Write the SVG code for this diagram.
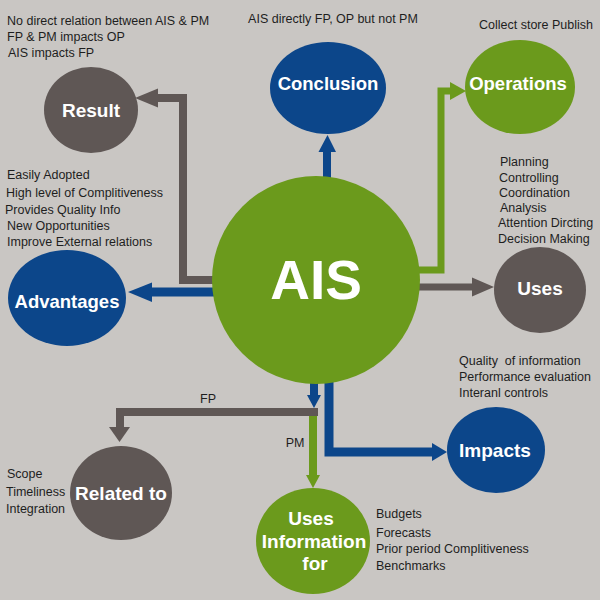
<svg xmlns="http://www.w3.org/2000/svg" width="600" height="600" viewBox="0 0 600 600">
<style>
.bg{fill:#c9c6c3}
.green{fill:#6b9a1c}
.blue{fill:#0c468a}
.grey{fill:#5f5755}
.lbl{font-family:"Liberation Sans",Arial,sans-serif;font-weight:bold;fill:#ffffff;text-anchor:middle}
.txt{font-family:"Liberation Sans",Arial,sans-serif;font-size:12.5px;fill:#1e1e1e;white-space:pre}
.sg{stroke:#6b9a1c;fill:none}
.sb{stroke:#0c468a;fill:none}
.sr{stroke:#5f5755;fill:none}
</style>
<rect class="bg" x="0" y="0" width="600" height="600"/>

<g id="connectors">
  <line class="sb" x1="327" y1="178" x2="327" y2="150" stroke-width="8"/>
  <polygon class="blue" points="318.5,152 336,152 327.5,135"/>

  <polyline class="sg" points="418,270 441,270 441,91 451,91" stroke-width="7"/>
  <polygon class="green" points="450,82 450,100 466,91"/>

  <polyline class="sr" points="214,280 183,280 183,98 157,98" stroke-width="8"/>
  <polygon class="grey" points="158,88.5 158,107.5 135,98"/>

  <line class="sb" x1="214" y1="292" x2="150" y2="292" stroke-width="9"/>
  <polygon class="blue" points="152,282.5 152,302 128,292"/>

  <line class="sr" x1="418" y1="287" x2="474" y2="287" stroke-width="7"/>
  <polygon class="grey" points="472,277.5 472,296.5 494,287"/>

  <line class="sb" x1="314" y1="382" x2="314" y2="397" stroke-width="8"/>
  <polygon class="blue" points="307,395 321,395 314,408"/>

  <polyline class="sr" points="318,412 120,412 120,429" stroke-width="8"/>
  <polygon class="grey" points="109,427 130,427 119.5,442"/>
  <text class="txt" x="208" y="403" text-anchor="middle">FP</text>

  <line class="sg" x1="313" y1="416" x2="313" y2="477" stroke-width="8"/>
  <polygon class="green" points="306,475 320,475 313,488"/>
  <text class="txt" x="295" y="447" text-anchor="middle">PM</text>

  <polyline class="sb" points="329,382 329,452 435,452" stroke-width="9"/>
  <polygon class="blue" points="432,443 432,461 447,452"/>
</g>

<g id="ais">
  <circle class="green" cx="316" cy="280" r="104"/>
  <text class="lbl" x="316" y="299" font-size="55">AIS</text>
</g>

<g id="conclusion">
  <ellipse class="blue" cx="328" cy="88" rx="58" ry="46"/>
  <text class="lbl" x="328" y="90" font-size="18.5">Conclusion</text>
  <text class="txt" x="333" y="23" text-anchor="middle">AIS directly FP, OP but not PM</text>
</g>

<g id="operations">
  <ellipse class="green" cx="520" cy="87" rx="55" ry="47"/>
  <text class="lbl" x="518" y="90" font-size="18.5">Operations</text>
  <text class="txt" x="536" y="29" text-anchor="middle">Collect store Publish</text>
</g>

<g id="result">
  <ellipse class="grey" cx="91" cy="110" rx="47" ry="43"/>
  <text class="lbl" x="91" y="117" font-size="19">Result</text>
  <text class="txt" x="7" y="25">No direct relation between AIS &amp; PM</text>
  <text class="txt" x="7" y="41">FP &amp; PM impacts OP</text>
  <text class="txt" x="8" y="57">AIS impacts FP</text>
</g>

<g id="advantages">
  <ellipse class="blue" cx="67" cy="298" rx="59" ry="48"/>
  <text class="lbl" x="67" y="308" font-size="18.5">Advantages</text>
  <text class="txt" x="7" y="179">Easily Adopted</text>
  <text class="txt" x="6" y="197">High level of Complitiveness</text>
  <text class="txt" x="5" y="214">Provides Quality Info</text>
  <text class="txt" x="7" y="230">New Opportunities</text>
  <text class="txt" x="7" y="246">Improve External relations</text>
</g>

<g id="uses">
  <ellipse class="grey" cx="540" cy="290" rx="46" ry="43"/>
  <text class="lbl" x="540" y="295" font-size="19">Uses</text>
  <text class="txt" x="500" y="166">Planning</text>
  <text class="txt" x="499" y="182">Controlling</text>
  <text class="txt" x="499" y="197">Coordination</text>
  <text class="txt" x="500" y="212">Analysis</text>
  <text class="txt" x="498" y="227">Attention Dircting</text>
  <text class="txt" x="498" y="243">Decision Making</text>
</g>

<g id="impacts">
  <ellipse class="blue" cx="496" cy="450" rx="49" ry="43"/>
  <text class="lbl" x="495" y="457" font-size="19">Impacts</text>
  <text class="txt" x="459" y="365" xml:space="preserve">Quality  of information</text>
  <text class="txt" x="459" y="381">Performance evaluation</text>
  <text class="txt" x="459" y="397">Interanl controls</text>
</g>

<g id="related-to">
  <ellipse class="grey" cx="121" cy="493" rx="51" ry="47"/>
  <text class="lbl" x="121" y="500" font-size="19">Related to</text>
  <text class="txt" x="7" y="478">Scope</text>
  <text class="txt" x="6" y="496">Timeliness</text>
  <text class="txt" x="6" y="513">Integration</text>
</g>

<g id="uses-information-for">
  <ellipse class="green" cx="313" cy="541" rx="57" ry="53"/>
  <text class="lbl" x="311" y="525" font-size="19">Uses</text>
  <text class="lbl" x="314" y="548" font-size="19">Information</text>
  <text class="lbl" x="315" y="570" font-size="19">for</text>
  <text class="txt" x="376" y="518">Budgets</text>
  <text class="txt" x="376" y="537">Forecasts</text>
  <text class="txt" x="376" y="553">Prior period Complitiveness</text>
  <text class="txt" x="376" y="570">Benchmarks</text>
</g>
</svg>
